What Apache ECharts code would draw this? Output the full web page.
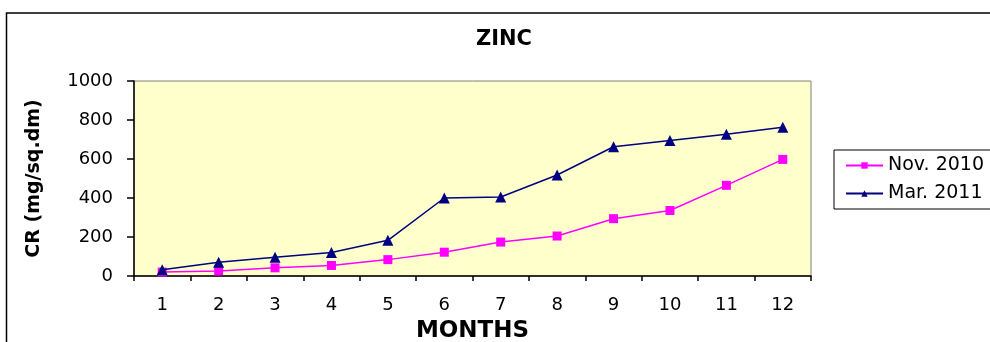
<!DOCTYPE html>
<html>
<head>
<meta charset="utf-8">
<script src="https://cdn.jsdelivr.net/npm/echarts@6/dist/echarts.min.js"></script>
<style>
  html, body { margin: 0; padding: 0; background: #fff; }
  #chart { width: 990px; height: 342px; }
</style>
</head>
<body>
<div id="chart"></div>
<script>
// Zinc corrosion rate by month for two exposure campaigns
const months = ['1', '2', '3', '4', '5', '6', '7', '8', '9', '10', '11', '12'];
const nov2010 = [20, 26, 42, 54, 84, 122, 174, 205, 294, 336, 465, 598];
const mar2011 = [32, 70, 96, 120, 183, 400, 405, 518, 663, 695, 727, 763];
const seriesNames = ['Nov. 2010', 'Mar. 2011'];
const yTicks = [0, 200, 400, 600, 800, 1000];

const font = 'DejaVu Sans, Liberation Sans, Arial, sans-serif';
const chart = echarts.init(document.getElementById('chart'), null, { renderer: 'canvas' });

chart.setOption({
  animation: false,
  backgroundColor: '#ffffff',
  title: {
    text: 'ZINC',
    left: 504, top: 29,
    textAlign: 'center',
    padding: 0,
    textStyle: { fontFamily: font, fontSize: 21, fontWeight: 'bold', color: '#000' }
  },
  graphic: [{
    type: 'rect',
    shape: { x: 6.5, y: 13, width: 1000, height: 400 },
    style: { fill: 'none', stroke: '#000', lineWidth: 1.5 },
    z: 100
  }],
  legend: {
    data: seriesNames,
    orient: 'vertical',
    left: 834, top: 150,
    padding: [6, 30, 6, 11],
    itemGap: 9,
    itemWidth: 37,
    itemHeight: 8,
    borderColor: '#000',
    borderWidth: 1,
    textStyle: { fontFamily: font, fontSize: 19, color: '#000' }
  },
  grid: {
    left: 134, right: 179, top: 81, bottom: 66,
    outerBoundsMode: 'none',
    containLabel: false,
    show: true,
    backgroundColor: '#FFFFCC',
    borderColor: '#808080',
    borderWidth: 1
  },
  xAxis: {
    type: 'category',
    data: months,
    boundaryGap: true,
    name: 'MONTHS',
    nameLocation: 'middle',
    nameGap: 44,
    nameTextStyle: { fontFamily: font, fontSize: 23, fontWeight: 'bold', color: '#000' },
    axisLine: { lineStyle: { color: '#000', width: 1.5 } },
    axisTick: { show: true, length: 5, alignWithLabel: false, lineStyle: { color: '#000', width: 1.5 } },
    axisLabel: { fontFamily: font, fontSize: 18, color: '#000', margin: 20 },
    splitLine: { show: false }
  },
  yAxis: {
    type: 'value',
    min: yTicks[0],
    max: yTicks[yTicks.length - 1],
    interval: yTicks[1] - yTicks[0],
    name: 'CR (mg/sq.dm)',
    nameLocation: 'middle',
    nameGap: 90,
    nameRotate: 90,
    nameTextStyle: { fontFamily: font, fontSize: 19, fontWeight: 'bold', color: '#000' },
    axisLine: { show: true, lineStyle: { color: '#000', width: 1.5 } },
    axisTick: { show: true, length: 7, lineStyle: { color: '#000', width: 1.5 } },
    axisLabel: { fontFamily: font, fontSize: 18, color: '#000', margin: 21, formatter: v => String(v) },
    splitLine: { show: false }
  },
  series: [
    {
      name: seriesNames[0],
      type: 'line',
      data: nov2010,
      symbol: 'rect',
      symbolSize: 9,
      itemStyle: { color: '#FF00FF' },
      lineStyle: { color: '#FF00FF', width: 1.5 },
      z: 3
    },
    {
      name: seriesNames[1],
      type: 'line',
      data: mar2011,
      symbol: 'triangle',
      symbolSize: 11,
      itemStyle: { color: '#000080' },
      lineStyle: { color: '#000080', width: 1.5 },
      z: 4
    }
  ]
});
</script>
</body>
</html>
